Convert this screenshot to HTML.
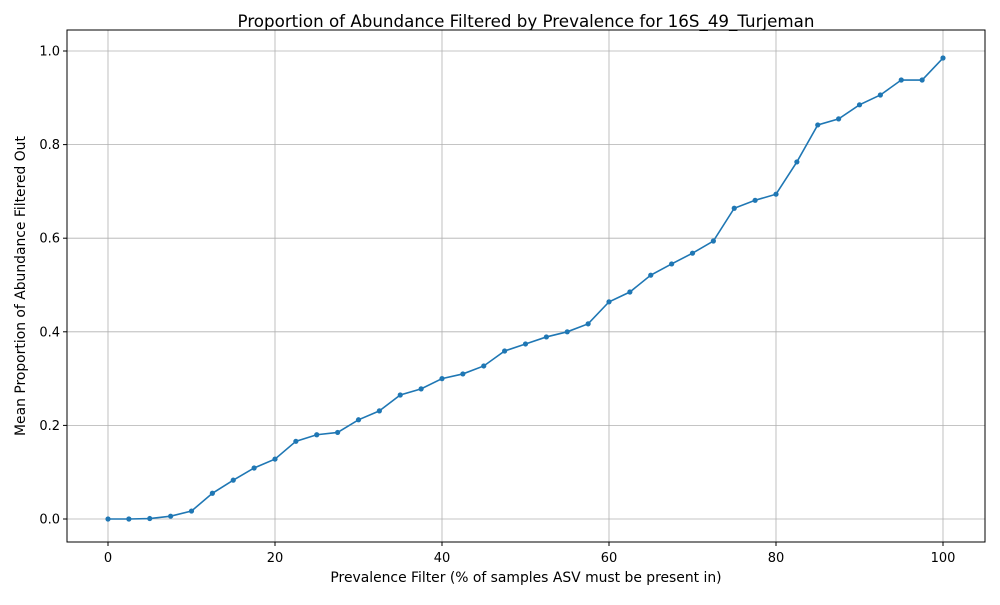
<!DOCTYPE html>
<html><head><meta charset="utf-8"><style>
body{margin:0;background:#fff;font-family:"Liberation Sans","DejaVu Sans",sans-serif;}
svg text{font-family:"DejaVu Sans","Liberation Sans",sans-serif;}
</style></head><body>
<svg id="chart" width="1000" height="600" xmlns="http://www.w3.org/2000/svg">
<rect width="1000" height="600" fill="#fff"/>
<text x="526" y="27" font-size="16.7" text-anchor="middle">Proportion of Abundance Filtered by Prevalence for 16S_49_Turjeman</text>
<g id="grid"></g>
<g id="axes"></g>
<g id="series"></g>
<rect x="67" y="30" width="918" height="512" fill="none" stroke="#000" stroke-width="1"/>
<text x="526" y="582" font-size="13.9" text-anchor="middle">Prevalence Filter (% of samples ASV must be present in)</text>
<text transform="translate(25,286) rotate(-90)" font-size="13.9" text-anchor="middle">Mean Proportion of Abundance Filtered Out</text>
</svg>
<script>
const xValues=[0,2.5,5,7.5,10,12.5,15,17.5,20,22.5,25,27.5,30,32.5,35,37.5,40,42.5,45,47.5,50,52.5,55,57.5,60,62.5,65,67.5,70,72.5,75,77.5,80,82.5,85,87.5,90,92.5,95,97.5,100];
const yValues=[0,0,0.001,0.006,0.017,0.055,0.083,0.109,0.128,0.166,0.180,0.185,0.212,0.231,0.265,0.278,0.300,0.310,0.327,0.359,0.374,0.389,0.400,0.417,0.464,0.485,0.521,0.545,0.568,0.594,0.664,0.681,0.694,0.763,0.842,0.855,0.885,0.906,0.938,0.938,0.985];
const xTicks=[0,20,40,60,80,100];
const yTicks=[0,0.2,0.4,0.6,0.8,1.0];
const yTickLabels=["0.0","0.2","0.4","0.6","0.8","1.0"];
const NS="http://www.w3.org/2000/svg";
const X=v=>108+v*8.35, Y=v=>519-v*468;
function mk(t,a,p){const e=document.createElementNS(NS,t);for(const k in a)e.setAttribute(k,a[k]);p.appendChild(e);return e;}
const grid=document.getElementById('grid'),axes=document.getElementById('axes'),ser=document.getElementById('series');
xTicks.forEach(v=>{
 const g=mk('line',{x1:X(v),x2:X(v),y1:30,y2:542,stroke:'#b0b0b0','stroke-width':0.8},grid);
 
 
 mk('line',{x1:X(v),x2:X(v),y1:542,y2:546,stroke:'#000'},axes);
 const t=mk('text',{x:X(v),y:562,'font-size':13,'text-anchor':'middle'},axes);t.textContent=v;
 
 
});
yTicks.forEach((v,i)=>{
 const g=mk('line',{x1:67,x2:985,y1:Y(v),y2:Y(v),stroke:'#b0b0b0','stroke-width':0.8},grid);
 
 
 mk('line',{x1:63,x2:67,y1:Y(v),y2:Y(v),stroke:'#000'},axes);
 const t=mk('text',{x:60,y:Y(v)+4.5,'font-size':13,'text-anchor':'end'},axes);t.textContent=yTickLabels[i];
 
 
});
const pl=mk('polyline',{points:xValues.map((x,i)=>X(x)+','+Y(yValues[i])).join(' '),fill:'none',stroke:'#1f77b4','stroke-width':1.6},ser);


xValues.forEach((x,i)=>{
 const c=mk('circle',{cx:X(x),cy:Y(yValues[i]),r:2.6,fill:'#1f77b4'},ser);
 
 
});
</script>
</body></html>
